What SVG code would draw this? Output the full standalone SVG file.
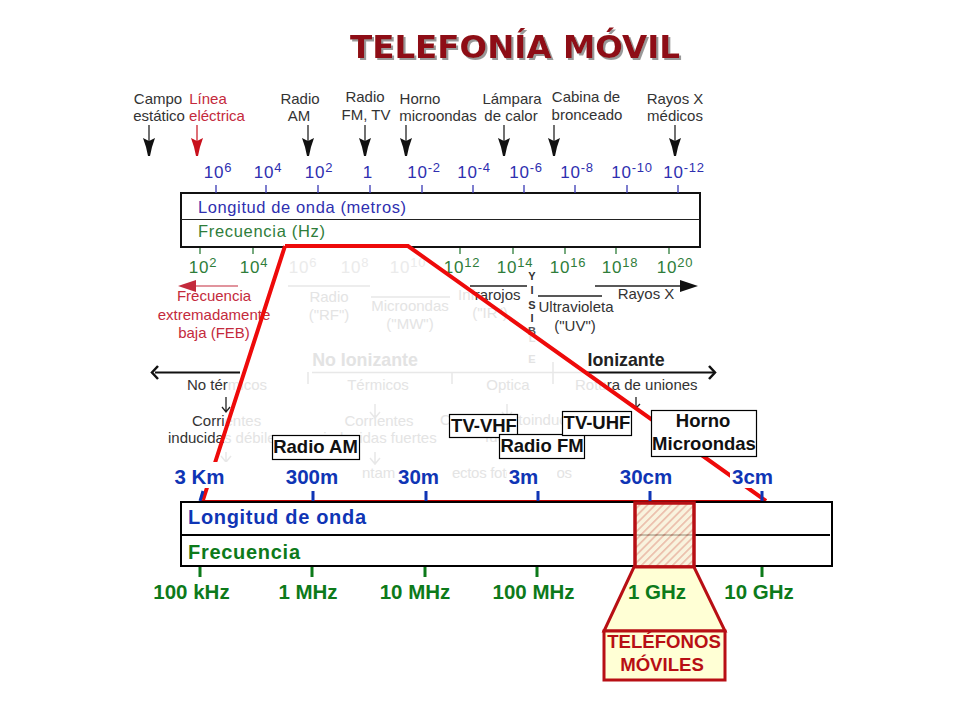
<svg xmlns="http://www.w3.org/2000/svg" width="960" height="720" viewBox="0 0 960 720">
<style>
text{font-family:"Liberation Sans",Arial,sans-serif}
.s{font-size:15px;fill:#333;text-anchor:middle}
.st{font-size:15px;fill:#333}
.r{font-size:15px;fill:#c42a3c;text-anchor:middle}
.b{font-size:17px;fill:#2f2fb0;text-anchor:middle;letter-spacing:.8px}
.g{font-size:17px;fill:#2f7d3a;text-anchor:middle;letter-spacing:.8px}
.gf{font-size:17px;fill:#ebebeb;text-anchor:middle;letter-spacing:.8px}
.f{font-size:15px;fill:#e4e4e4;text-anchor:middle}
.ft{font-size:15px;fill:#e4e4e4}
.fa{fill:#e4e4e4}
.e{font-size:13px}
.lb{font-size:20.5px;font-weight:bold;fill:#0f35b5;text-anchor:middle}
.lg{font-size:20.5px;font-weight:bold;fill:#0d7a1a;text-anchor:middle}
.box{fill:#fff;stroke:#000;stroke-width:1.2}
.bt{font-size:18.5px;font-weight:bold;fill:#111;text-anchor:middle}
.tb{stroke:#3a3ab5;stroke-width:1.3}
.tg{stroke:#2f7d3a;stroke-width:1.3}
.tB{stroke:#0f35b5;stroke-width:3}
.tG{stroke:#0d7a1a;stroke-width:3}
.ln{stroke:#e8e8e8;stroke-width:1.5;fill:none}
.dk{stroke:#222;stroke-width:1.3;fill:none}
.tt{font-family:"DejaVu Sans",sans-serif;font-size:32.5px;font-weight:bold;text-anchor:middle}
</style>
<defs>
<filter id="shadow" x="-5%" y="-20%" width="110%" height="140%"><feDropShadow dx="2" dy="2" stdDeviation="0.6" flood-color="#999"/></filter>
<pattern id="hatch" width="5.500" height="5.500" patternUnits="userSpaceOnUse" patternTransform="rotate(45)">
<rect width="5.500" height="5.500" fill="#f8f0d6"/><rect width="1.700" height="5.500" fill="#e6ae96"/>
</pattern>
<g id="dn"><path d="M0 0V16" stroke="currentColor" stroke-width="1.2"/><path d="M-6 13L0 16L6 13L3 22L1 31H-1L-3 22Z" fill="currentColor"/></g>
</defs>

<g id="title">
<text class="tt" x="515" y="58" fill="#8e0f12" filter="url(#shadow)">TELEFONÍA MÓVIL</text>
</g>

<g id="faded-layer">
<path class="ln" d="M288 286H370M371 297H450M312 372.500H585M308 372V384M452 372V384M553 362V384"/>
<text class="gf" x="303" y="273">10<tspan class="e" dy="-6">6</tspan></text>
<text class="gf" x="355" y="273">10<tspan class="e" dy="-6">8</tspan></text>
<text class="gf" x="408" y="273">10<tspan class="e" dy="-6">10</tspan></text>
<text class="f" x="329" y="302">Radio</text><text class="f" x="329" y="320">("RF")</text>
<text class="f" x="410" y="311">Microondas</text><text class="f" x="410" y="329">("MW")</text>
<text class="f" x="490" y="318">("IR")</text>
<g style="font-size:11px;font-weight:bold;fill:#e3e3e3" text-anchor="middle"><text x="532" y="342">L</text><text x="532" y="363">E</text></g>
<text x="365" y="366" text-anchor="middle" style="font-size:17.8px;font-weight:bold;fill:#e3e3e3">No Ionizante</text>
<text class="f" x="378" y="390">Térmicos</text>
<text class="f" x="508" y="390">Optica</text>
<text class="f" x="379" y="426">Corrientes</text>
<text class="f" x="380" y="443">inducidas fuertes</text>
<text class="ft" x="440" y="425">Corriente fotoinducida</text>
<text class="ft" x="485" y="442">fuertes</text>
<text class="ft" x="362" y="478">ntamiento</text>
<text class="f" x="512" y="478" textLength="120">ectos fotoquímicos</text>
<path class="ln" d="M375 404V418M370 412L375 418L380 412M375 452V464M370 458L375 464L380 458M507 404V418M502 412L507 418L512 412M226 452V462M221 456L226 462L231 456"/>
</g>

<g id="scale-top">
<rect x="181" y="193" width="519" height="54" fill="#fff" stroke="#111" stroke-width="2"/>
<path d="M181 219.500H700" stroke="#222" stroke-width="1.200"/>
<text x="198" y="213" style="font-size:16.5px;fill:#2f2fb0" textLength="208">Longitud de onda (metros)</text>
<text x="198" y="237" style="font-size:16.5px;fill:#2f7d3a" textLength="127">Frecuencia (Hz)</text>
</g>

<g id="scale-top-labels">
<text class="b" x="218" y="178">10<tspan class="e" dy="-6">6</tspan></text>
<text class="b" x="268" y="178">10<tspan class="e" dy="-6">4</tspan></text>
<text class="b" x="319" y="178">10<tspan class="e" dy="-6">2</tspan></text>
<text class="b" x="368" y="178">1</text>
<text class="b" x="424" y="178">10<tspan class="e" dy="-6">-2</tspan></text>
<text class="b" x="474" y="178">10<tspan class="e" dy="-6">-4</tspan></text>
<text class="b" x="526" y="178">10<tspan class="e" dy="-6">-6</tspan></text>
<text class="b" x="577" y="178">10<tspan class="e" dy="-6">-8</tspan></text>
<text class="b" x="632" y="178">10<tspan class="e" dy="-6">-10</tspan></text>
<text class="b" x="684" y="178">10<tspan class="e" dy="-6">-12</tspan></text>
</g>

<g id="scale-bottom-labels">
<text class="g" x="203" y="273">10<tspan class="e" dy="-6">2</tspan></text>
<text class="g" x="254" y="273">10<tspan class="e" dy="-6">4</tspan></text>
<text class="g" x="462" y="273">10<tspan class="e" dy="-6">12</tspan></text>
<text class="g" x="515" y="273">10<tspan class="e" dy="-6">14</tspan></text>
<text class="g" x="568" y="273">10<tspan class="e" dy="-6">16</tspan></text>
<text class="g" x="620" y="273">10<tspan class="e" dy="-6">18</tspan></text>
<text class="g" x="675" y="273">10<tspan class="e" dy="-6">20</tspan></text>
</g>

<g id="sources">
<text class="s" x="158" y="104">Campo</text><text class="s" x="159" y="121">estático</text>
<text class="r" x="208" y="104">Línea</text><text class="r" x="217" y="121">eléctrica</text>
<text class="s" x="300" y="104">Radio</text><text class="s" x="299" y="121">AM</text>
<text class="s" x="365" y="102">Radio</text><text class="s" x="366" y="120">FM, TV</text>
<text class="s" x="420" y="104">Horno</text><text class="s" x="438" y="121">microondas</text>
<text class="s" x="512" y="104">Lámpara</text><text class="s" x="511" y="121">de calor</text>
<text class="s" x="586" y="102">Cabina de</text><text class="s" x="587" y="120">bronceado</text>
<text class="s" x="675" y="104">Rayos X</text><text class="s" x="675" y="121">médicos</text>
</g>

<g id="spectrum-labels">
<text class="r" x="214" y="301">Frecuencia</text>
<text class="r" x="214" y="320">extremadamente</text>
<text class="r" x="214" y="338">baja (FEB)</text>
<text class="s" x="646" y="299">Rayos X</text>
<text class="s" x="576" y="312">Ultravioleta</text>
<text class="s" x="575" y="331">("UV")</text>
<text class="st" x="458" y="300"><tspan class="fa">Inf</tspan>rarojos</text>
<g style="font-size:11px;font-weight:bold;fill:#333" text-anchor="middle"><text x="532" y="280">Y</text><text x="532" y="294">I</text><text x="532" y="309">S</text><text x="532" y="322">I</text><text x="532" y="335" fill="#555">B</text></g>
<text x="626" y="366" text-anchor="middle" style="font-size:17.8px;font-weight:bold;fill:#222">Ionizante</text>
<text class="st" x="187" y="390">No tér<tspan class="fa">micos</tspan></text>
<text class="st" x="575" y="390"><tspan class="fa">Rotu</tspan>ra de uniones</text>
<text class="st" x="192" y="426">Corri<tspan class="fa">entes</tspan></text>
<text class="st" x="168" y="443">inducida<tspan class="fa">s débiles</tspan></text>
</g>

<g id="connectors">
<g class="tb"><path d="M216 185V193M266 185V193M318 185V193M370 185V193M422 185V193M473 185V193M524 185V193M575 185V193M627 185V193M678 185V193"/></g>
<g class="tg"><path d="M200 248V254M253 248V254M460 248V254M513 248V254M565 248V254M616 248V254M669 248V254"/></g>
<g color="#111">
<use href="#dn" x="149" y="125"/><use href="#dn" x="308" y="125"/><use href="#dn" x="365" y="125"/><use href="#dn" x="406" y="125"/><use href="#dn" x="504" y="125"/><use href="#dn" x="554" y="125"/><use href="#dn" x="675" y="125"/>
</g>
<use href="#dn" x="197" y="125" color="#c8101c"/>
<path d="M190 286H238" stroke="#c42a3c" stroke-width="1.200"/><path d="M178 286L196 280V292Z" fill="#c42a3c"/>
<path d="M595 286H682" class="dk"/><path d="M698 286L680 280V292Z" fill="#111"/>
<path d="M538 296H602M470 286H527" class="dk"/>
<path d="M155 372.500H240M585 372.500H714" stroke="#111" stroke-width="2" fill="none"/>
<path d="M158 366L152 372.500L158 379M709 366L715 372.500L709 379" stroke="#111" stroke-width="2.500" fill="none"/>
<path d="M226 397V412M222 407L226 412L230 407M636 397V408M632 404L636 408L640 404" class="dk"/>
<path d="M285 246H408L766 501M285 246L203 500" stroke="#ee0a0a" stroke-width="4" fill="none"/>
<path d="M200 501H765" stroke="#c00000" stroke-width="2"/>
</g>

<g id="label-masks" fill="#fff">
<rect x="170" y="462" width="60" height="26"/><rect x="283" y="466" width="58" height="22"/><rect x="395" y="466" width="48" height="22"/><rect x="507" y="466" width="50" height="22"/><rect x="618" y="466" width="56" height="22"/><rect x="730" y="466" width="46" height="22"/>
</g>

<g id="wave-ticks">
<path class="tB" d="M203 491L200 501M313 491V501M426 491V501M538 491V501M650 491V501M762 491V501"/>
<path class="tG" d="M200 566V577M312 566V577M425 566V577M537 566V577M649 566V577M762 566V577"/>
</g>

<g id="scale-main">
<path d="M181 502H832V566H181Z" fill="#fff" stroke="#000" stroke-width="2"/>
<path d="M181 535H830" stroke="#000" stroke-width="2"/>
<text x="188" y="524" style="font-size:20px;font-weight:bold;fill:#0f35b5" textLength="178">Longitud de onda</text>
<text x="188" y="559" style="font-size:20px;font-weight:bold;fill:#0d7a1a" textLength="112">Frecuencia</text>
</g>

<g id="band">
<rect x="635" y="503" width="59" height="64" fill="url(#hatch)" fill-opacity=".8" stroke="#b80f14" stroke-width="3.500"/>
<path d="M634 567H694L725 631H604Z" fill="#ffffd5" stroke="#b80f14" stroke-width="3"/>
</g>

<g id="wave-labels">
<text class="lb" x="199.500" y="484">3 Km</text>
<text class="lb" x="312" y="484">300m</text>
<text class="lb" x="418.500" y="484">30m</text>
<text class="lb" x="523.500" y="484">3m</text>
<text class="lb" x="646" y="484">30cm</text>
<text class="lb" x="752.500" y="484">3cm</text>
</g>
<g id="freq-labels">
<text class="lg" x="191.500" y="599">100 kHz</text>
<text class="lg" x="308" y="599">1 MHz</text>
<text class="lg" x="415" y="599">10 MHz</text>
<text class="lg" x="533.500" y="599">100 MHz</text>
<text class="lg" x="657" y="599">1 GHz</text>
<text class="lg" x="759" y="599">10 GHz</text>
</g>

<g id="telefonos">
<rect x="604" y="631" width="121" height="49" fill="#ffffd5" stroke="#b80f14" stroke-width="3"/>
<text x="664" y="648" text-anchor="middle" style="font-size:18.6px;font-weight:bold;fill:#b80f14">TELÉFONOS</text>
<text x="662" y="671" text-anchor="middle" style="font-size:18.6px;font-weight:bold;fill:#b80f14">MÓVILES</text>
</g>

<g id="radio-am"><rect class="box" x="272.500" y="435.500" width="87" height="24"/><text class="bt" x="315.500" y="453">Radio AM</text></g>
<g id="tv-vhf"><rect class="box" x="449.500" y="414.500" width="68" height="23"/><text class="bt" x="484" y="432">TV-VHF</text></g>
<g id="radio-fm"><rect class="box" x="499.500" y="434.500" width="85" height="24"/><text class="bt" x="542" y="452">Radio FM</text></g>
<g id="tv-uhf"><rect class="box" x="562.500" y="411.500" width="69" height="24"/><text class="bt" x="597" y="429">TV-UHF</text></g>
<g id="horno"><rect class="box" x="651.500" y="410.500" width="105" height="46"/><text class="bt" x="703" y="427">Horno</text><text class="bt" x="704" y="450">Microondas</text></g>
</svg>
